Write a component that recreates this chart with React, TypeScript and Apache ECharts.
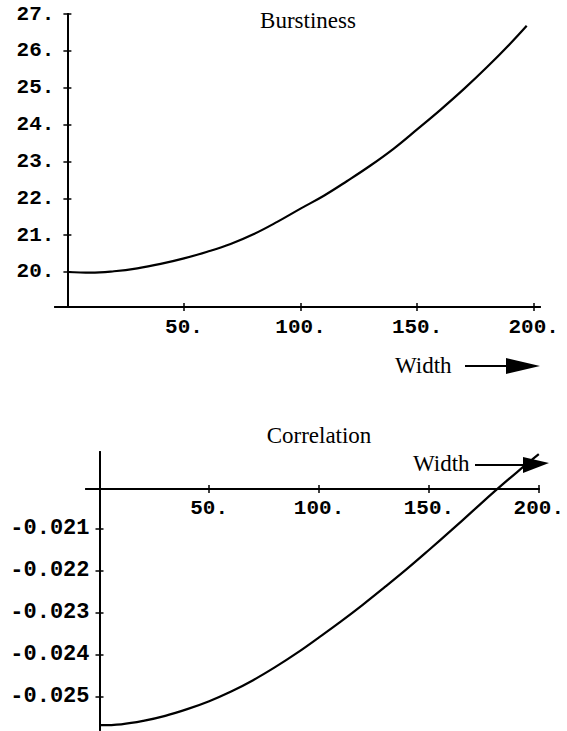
import React, { useEffect, useRef } from "react";
import * as echarts from "echarts";

// ---- data ----
const widthTop = [0, 10, 20, 30, 40, 50, 60, 70, 80, 90, 100, 110, 120, 130, 140, 150, 160, 170, 180, 190, 197];
const burstiness = [20.0, 19.98, 20.02, 20.1, 20.22, 20.37, 20.55, 20.76, 21.03, 21.36, 21.72, 22.07, 22.47, 22.89, 23.35, 23.87, 24.4, 24.96, 25.56, 26.2, 26.68];

const widthBottom = [0, 10, 20, 30, 40, 50, 60, 70, 80, 90, 100, 110, 120, 130, 140, 150, 160, 170, 180, 190, 200];
const correlation = [-0.02567, -0.02565, -0.02557, -0.02545, -0.02529, -0.0251, -0.02487, -0.0246, -0.02429, -0.02395, -0.02358, -0.0232, -0.0228, -0.02238, -0.02195, -0.0215, -0.02104, -0.02057, -0.0201, -0.01965, -0.01922];

const topXTicks = [50, 100, 150, 200];
const topYTicks = [20, 21, 22, 23, 24, 25, 26, 27];
const bottomXTicks = [50, 100, 150, 200];
const bottomYTicks = [-0.021, -0.022, -0.023, -0.024, -0.025];

const titleTop = "Burstiness";
const titleBottom = "Correlation";
const axisName = "Width";

const MONO = "'Liberation Mono', 'DejaVu Sans Mono', monospace";
const SERIF = "'Liberation Serif', 'Times New Roman', serif";

export default function App() {
  const ref = useRef<HTMLDivElement>(null);

  useEffect(() => {
    if (!ref.current) return;
    const chart = echarts.init(ref.current, null, { renderer: "svg" });

    const lineStyle = { color: "#000", width: 2 };
    const tickStyle = { color: "#000", width: 1.5 };
    const labelStyle = { color: "#000", fontFamily: MONO, fontSize: 21, fontWeight: "bold" };

    const intLabel = (v: number) => Math.round(v) + ".";
    const decLabel = (v: number) => v.toFixed(3);

    const xAxisCommon = (gridIndex: number, min: number, max: number) => ({
      type: "value",
      gridIndex,
      min,
      max,
      splitLine: { show: false },
      axisLine: { show: true, onZero: false, lineStyle },
    });

    const yAxisCommon = (gridIndex: number, min: number, max: number, offset: number) => ({
      type: "value",
      gridIndex,
      min,
      max,
      position: "left",
      offset,
      splitLine: { show: false },
      axisLine: { show: true, onZero: false, lineStyle },
    });

    const option: any = {
      animation: false,
      backgroundColor: "#fff",
      grid: [
        { left: 55, width: 485, top: 14, height: 293, containLabel: false },
        { left: 86, width: 460, top: 452, height: 278, containLabel: false },
      ],
      xAxis: [
        {
          ...xAxisCommon(0, -5.3, 202.7),
          position: "bottom",
          axisTick: { show: true, inside: false, length: 4, lineStyle: tickStyle, customValues: topXTicks },
          axisLabel: { ...labelStyle, margin: 10, customValues: topXTicks, formatter: intLabel },
        },
        {
          ...xAxisCommon(0, -5.3, 202.7),
          position: "bottom",
          axisTick: { show: true, inside: true, length: 4, lineStyle: tickStyle, customValues: topXTicks },
          axisLabel: { show: false },
        },
        {
          ...xAxisCommon(1, -6.05, 200),
          position: "top",
          offset: -37,
          axisTick: { show: true, inside: true, length: 4, lineStyle: tickStyle, customValues: bottomXTicks },
          axisLabel: { ...labelStyle, inside: true, margin: 9, customValues: bottomXTicks, formatter: intLabel },
        },
        {
          ...xAxisCommon(1, -6.05, 200),
          position: "top",
          offset: -37,
          axisTick: { show: true, inside: false, length: 4, lineStyle: tickStyle, customValues: bottomXTicks },
          axisLabel: { show: false },
        },
      ],
      yAxis: [
        {
          ...yAxisCommon(0, 19.05, 27, -12.4),
          axisTick: { show: true, inside: false, length: 4, lineStyle: tickStyle, customValues: topYTicks },
          axisLabel: { ...labelStyle, margin: 13, customValues: topYTicks, formatter: intLabel },
        },
        {
          ...yAxisCommon(0, 19.05, 27, -12.4),
          axisTick: { show: true, inside: true, length: 4, lineStyle: tickStyle, customValues: topYTicks },
          axisLabel: { show: false },
        },
        {
          ...yAxisCommon(1, -0.025786, -0.019167, -13.5),
          axisTick: { show: true, inside: false, length: 4, lineStyle: tickStyle, customValues: bottomYTicks },
          axisLabel: { ...labelStyle, fontSize: 22, margin: 10, customValues: bottomYTicks, formatter: decLabel },
        },
        {
          ...yAxisCommon(1, -0.025786, -0.019167, -13.5),
          axisTick: { show: true, inside: true, length: 4, lineStyle: tickStyle, customValues: bottomYTicks },
          axisLabel: { show: false },
        },
      ],
      series: [
        {
          type: "line",
          name: titleTop,
          xAxisIndex: 0,
          yAxisIndex: 0,
          data: widthTop.map((x, i) => [x, burstiness[i]]),
          showSymbol: false,
          smooth: 0.4,
          lineStyle: { color: "#000", width: 2.2 },
          z: 5,
        },
        {
          type: "line",
          name: titleBottom,
          xAxisIndex: 2,
          yAxisIndex: 2,
          data: widthBottom.map((x, i) => [x, correlation[i]]),
          showSymbol: false,
          smooth: 0.4,
          clip: false,
          lineStyle: { color: "#000", width: 2.2 },
          z: 5,
        },
      ],
      graphic: [
        {
          type: "text",
          x: 308,
          y: 20,
          style: { text: titleTop, font: `23px ${SERIF}`, fill: "#000", textAlign: "center", textVerticalAlign: "middle" },
        },
        {
          type: "text",
          x: 319,
          y: 435,
          style: { text: titleBottom, font: `23px ${SERIF}`, fill: "#000", textAlign: "center", textVerticalAlign: "middle" },
        },
        {
          type: "text",
          x: 395,
          y: 365,
          style: { text: axisName, font: `23px ${SERIF}`, fill: "#000", textAlign: "left", textVerticalAlign: "middle" },
        },
        { type: "line", shape: { x1: 465, y1: 366, x2: 512, y2: 366 }, style: { stroke: "#000", lineWidth: 2 } },
        { type: "polygon", shape: { points: [[506, 358], [540, 366], [506, 374]] }, style: { fill: "#000" } },
        {
          type: "text",
          x: 413,
          y: 463,
          style: { text: axisName, font: `23px ${SERIF}`, fill: "#000", textAlign: "left", textVerticalAlign: "middle" },
        },
        { type: "line", shape: { x1: 475, y1: 465, x2: 527, y2: 465 }, style: { stroke: "#000", lineWidth: 2 } },
        { type: "polygon", shape: { points: [[523, 457], [549, 463], [523, 473]] }, style: { fill: "#000" } },
      ],
    };

    chart.setOption(option);
    return () => chart.dispose();
  }, []);

  return (
    <div
      ref={ref}
      style={{ position: "absolute", left: 0, top: 0, width: 567, height: 731, background: "#fff" }}
    />
  );
}
